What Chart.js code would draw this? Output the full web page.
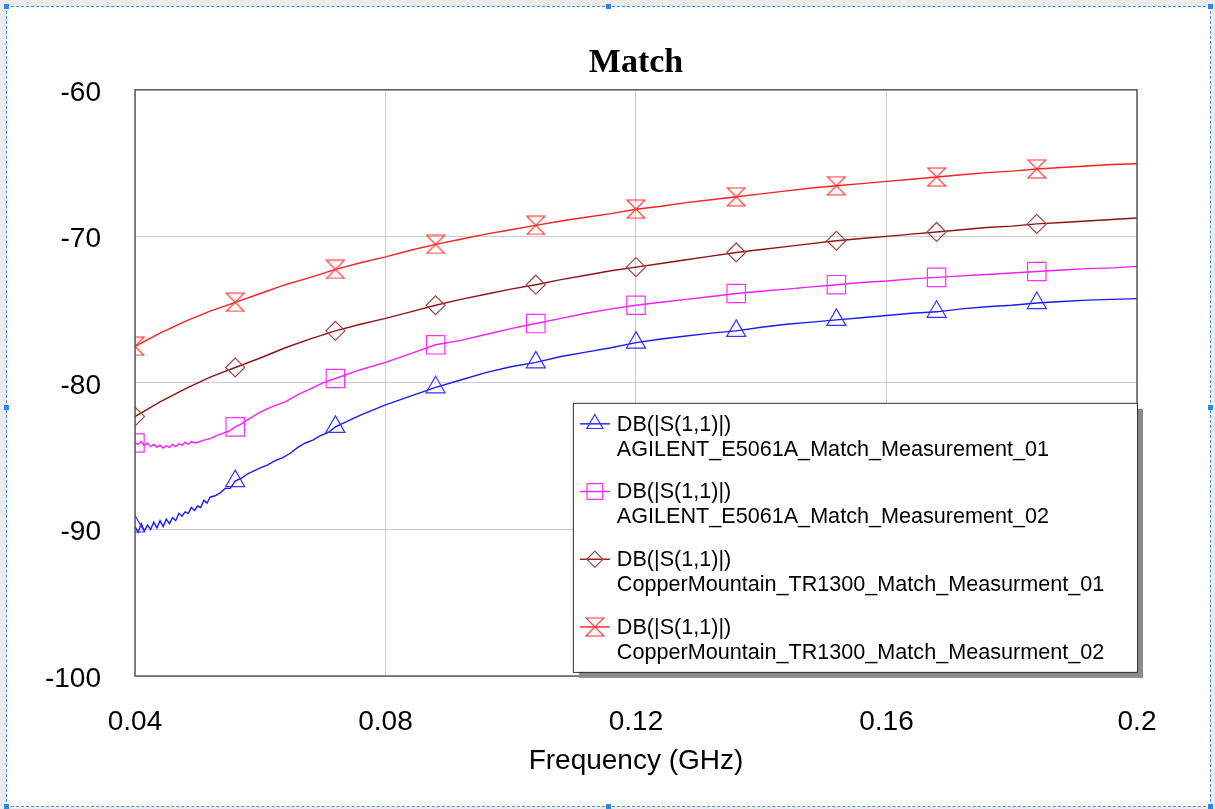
<!DOCTYPE html>
<html>
<head>
<meta charset="utf-8">
<title>Match</title>
<script src="https://cdn.jsdelivr.net/npm/chart.js@4.4.1/dist/chart.umd.min.js"></script>
<style>
    html, body { margin: 0; padding: 0; background: #ececec; overflow: hidden; }
    #frame {
        position: absolute; left: 6px; top: 6px; width: 1203px; height: 799px;
        background: #fff; border: 1px dashed #3d8fe0;
    }
    .handle { position: absolute; width: 5px; height: 5px; background: #2f86e6; }
    #chart { position: absolute; left: 0; top: 0; }
</style>
</head>
<body>
<div id="frame"></div>
<div class="handle" style="left:4px;top:4px"></div>
<div class="handle" style="left:606px;top:4px"></div>
<div class="handle" style="left:1208px;top:4px"></div>
<div class="handle" style="left:4px;top:405px"></div>
<div class="handle" style="left:1208px;top:405px"></div>
<div class="handle" style="left:4px;top:804px"></div>
<div class="handle" style="left:606px;top:804px"></div>
<div class="handle" style="left:1208px;top:804px"></div>
<canvas id="chart" width="1215" height="809"></canvas>
<script>
// axis ticks
const xTickValues = [0.04, 0.08, 0.12, 0.16, 0.2];
const xTickLabels = ['0.04', '0.08', '0.12', '0.16', '0.2'];
const yTickValues = [-100, -90, -80, -70, -60];
const yTickLabels = ['-100', '-90', '-80', '-70', '-60'];

// frequencies where the marker symbols sit
const markerFreqs = [0.04, 0.056, 0.072, 0.088, 0.104, 0.12, 0.136, 0.152, 0.168, 0.184];

const traceName = 'DB(|S(1,1)|)';
const seriesNames = [
    'AGILENT_E5061A_Match_Measurement_01',
    'AGILENT_E5061A_Match_Measurement_02',
    'CopperMountain_TR1300_Match_Measurment_01',
    'CopperMountain_TR1300_Match_Measurment_02'
];

// AGILENT 01 (blue, noisy at low frequency)
const agilent01Freq = [
    0.0400, 0.0405, 0.0410, 0.0415, 0.0420, 0.0425, 0.0430, 0.0435, 0.0440, 0.0445,
    0.0450, 0.0455, 0.0460, 0.0465, 0.0470, 0.0475, 0.0480, 0.0485, 0.0490, 0.0495,
    0.0500, 0.0505, 0.0510, 0.0515, 0.0520, 0.0528, 0.0536, 0.0544, 0.0552, 0.0560,
    0.0570, 0.0580, 0.0590, 0.0600, 0.0612, 0.0624, 0.0636, 0.0648, 0.0660, 0.0672,
    0.0684, 0.0696, 0.0708, 0.0720, 0.0760, 0.0800, 0.0840, 0.0880, 0.0920, 0.0960,
    0.1000, 0.1040, 0.1080, 0.1120, 0.1160, 0.1200, 0.1240, 0.1280, 0.1320, 0.1360,
    0.1400, 0.1440, 0.1480, 0.1520, 0.1560, 0.1600, 0.1640, 0.1680, 0.1720, 0.1760,
    0.1800, 0.1840, 0.1880, 0.1920, 0.1960, 0.2000
];
const agilent01Db = [
    -89.8, -90.2, -89.6, -90.1, -89.7, -90.0, -89.5, -89.9, -89.4, -89.8,
    -89.3, -89.6, -89.2, -89.4, -88.9, -89.1, -88.8, -88.9, -88.5, -88.7,
    -88.4, -88.5, -88.0, -88.2, -87.8, -87.7, -87.5, -87.2, -87.2, -86.7,
    -86.5, -86.2, -86.0, -85.8, -85.6, -85.3, -85.1, -84.8, -84.4, -84.1,
    -83.9, -83.6, -83.4, -83.0, -82.2, -81.5, -80.9, -80.3, -79.8, -79.3,
    -78.9, -78.6, -78.2, -77.9, -77.6, -77.25, -77.0, -76.8, -76.6, -76.45,
    -76.2, -76.0, -75.85, -75.7, -75.55, -75.4, -75.25, -75.15, -74.95, -74.8,
    -74.7, -74.55, -74.45, -74.35, -74.3, -74.25
];

// AGILENT 02 (magenta)
const agilent02Freq = [
    0.0400, 0.0405, 0.0410, 0.0415, 0.0420, 0.0425, 0.0430, 0.0435, 0.0440, 0.0445,
    0.0450, 0.0455, 0.0460, 0.0465, 0.0470, 0.0475, 0.0480, 0.0485, 0.0490, 0.0495,
    0.0500, 0.0510, 0.0520, 0.0530, 0.0540, 0.0550, 0.0560, 0.0570, 0.0580, 0.0600,
    0.0620, 0.0640, 0.0660, 0.0680, 0.0700, 0.0720, 0.0760, 0.0800, 0.0840, 0.0880,
    0.0920, 0.0960, 0.1000, 0.1040, 0.1080, 0.1120, 0.1160, 0.1200, 0.1240, 0.1280,
    0.1320, 0.1360, 0.1400, 0.1440, 0.1480, 0.1520, 0.1560, 0.1600, 0.1640, 0.1680,
    0.1720, 0.1760, 0.1800, 0.1840, 0.1880, 0.1920, 0.1960, 0.2000
];
const agilent02Db = [
    -84.1, -84.2, -84.0, -84.3, -84.1, -84.35, -84.2, -84.4, -84.25, -84.45,
    -84.3, -84.4, -84.2, -84.35, -84.15, -84.25, -84.05, -84.2, -84.0, -84.1,
    -84.05, -83.9, -83.8, -83.6, -83.45, -83.3, -83.0, -82.8, -82.5, -82.0,
    -81.6, -81.3, -80.8, -80.4, -80.0, -79.7, -79.1, -78.6, -78.0, -77.4,
    -77.1, -76.7, -76.3, -75.95, -75.6, -75.25, -74.95, -74.7, -74.5, -74.3,
    -74.1, -73.9, -73.75, -73.6, -73.45, -73.3, -73.15, -73.05, -72.9, -72.8,
    -72.7, -72.6, -72.5, -72.4, -72.3, -72.2, -72.15, -72.05
];

// CopperMountain traces are smooth, one value every 4 MHz
const copperFreq = [
    0.040, 0.044, 0.048, 0.052, 0.056, 0.060, 0.064, 0.068, 0.072, 0.076,
    0.080, 0.084, 0.088, 0.092, 0.096, 0.100, 0.104, 0.108, 0.112, 0.116,
    0.120, 0.124, 0.128, 0.132, 0.136, 0.140, 0.144, 0.148, 0.152, 0.156,
    0.160, 0.164, 0.168, 0.172, 0.176, 0.180, 0.184, 0.188, 0.192, 0.196, 0.200
];
const copper01Db = [
    -82.3, -81.3, -80.4, -79.6, -78.95, -78.3, -77.6, -77.0, -76.45, -76.0,
    -75.6, -75.15, -74.7, -74.3, -73.95, -73.6, -73.3, -72.95, -72.65, -72.35,
    -72.1, -71.85, -71.6, -71.35, -71.1, -70.9, -70.7, -70.5, -70.3, -70.15,
    -70.0, -69.85, -69.7, -69.55, -69.4, -69.3, -69.15, -69.05, -68.95, -68.85, -68.75
];
const copper02Db = [
    -77.5, -76.6, -75.8, -75.1, -74.5, -73.9, -73.3, -72.8, -72.25, -71.8,
    -71.4, -70.95, -70.55, -70.2, -69.85, -69.55, -69.25, -68.95, -68.7, -68.45,
    -68.15, -67.95, -67.7, -67.5, -67.3, -67.1, -66.9, -66.7, -66.55, -66.4,
    -66.25, -66.1, -65.95, -65.8, -65.65, -65.55, -65.4, -65.3, -65.2, -65.1, -65.05
];

const colors = ['#1a1aff', '#ff1aff', '#8e1414', '#ff2020'];
const markerColors = ['#3535ff', '#ff30ff', '#a04848', '#ff3030'];

function pairs(xs, ys) {
    return xs.map((x, i) => ({ x: x, y: ys[i] }));
}

// hourglass symbol used for the last trace
function hourglass(color, size) {
    const c = document.createElement('canvas');
    c.width = size;
    c.height = size;
    const g = c.getContext('2d');
    g.strokeStyle = color;
    g.lineWidth = 1.2;
    g.beginPath();
    g.moveTo(1, 1);
    g.lineTo(size - 1, 1);
    g.lineTo(1, size - 1);
    g.lineTo(size - 1, size - 1);
    g.closePath();
    g.stroke();
    return c;
}

const pointStyles = ['triangle', 'rect', 'rectRot', hourglass(markerColors[3], 20)];
const pointSizes = [11, 13, 9.5, 10];

function isMarker(x) {
    return markerFreqs.some(f => Math.abs(f - x) < 1e-6);
}

function makeDataset(i, xs, ys) {
    return {
        label: seriesNames[i],
        data: pairs(xs, ys),
        borderColor: colors[i],
        borderWidth: 1.4,
        pointStyle: pointStyles[i],
        pointBorderColor: markerColors[i],
        pointBackgroundColor: 'rgba(0,0,0,0)',
        pointBorderWidth: 1.2,
        pointRadius: ctx => (ctx.raw && isMarker(ctx.raw.x)) ? pointSizes[i] : 0,
        tension: 0,
        fill: false
    };
}

// boxed legend drawn inside the plot, lower right
const boxLegend = {
    id: 'boxLegend',
    afterDraw(chart) {
        const ctx = chart.ctx;
        const ca = chart.chartArea;
        const w = ca.right - ca.left;
        const h = ca.bottom - ca.top;
        const left = ca.left + w * 0.437;
        const top = ca.top + h * 0.534;
        const right = ca.right;
        const bottom = ca.top + h * 0.993;

        ctx.save();
        ctx.fillStyle = '#8a8a8a';
        ctx.fillRect(left + 6, top + 6, right - left, bottom - top);
        ctx.fillStyle = '#ffffff';
        ctx.fillRect(left, top, right - left, bottom - top);
        ctx.strokeStyle = '#333';
        ctx.lineWidth = 1;
        ctx.strokeRect(left + 0.5, top + 0.5, right - left, bottom - top);

        ctx.font = '21.6px "Liberation Sans", Arial, sans-serif';
        ctx.textBaseline = 'middle';
        ctx.textAlign = 'left';
        for (let i = 0; i < seriesNames.length; i++) {
            const y = top + 21 + i * 67.7;
            ctx.strokeStyle = colors[i];
            ctx.lineWidth = 1.4;
            ctx.beginPath();
            ctx.moveTo(left + 7, y);
            ctx.lineTo(left + 37, y);
            ctx.stroke();
            ctx.strokeStyle = markerColors[i];
            ctx.fillStyle = 'rgba(0,0,0,0)';
            ctx.lineWidth = 1.2;
            Chart.helpers.drawPoint(ctx, {
                pointStyle: pointStyles[i],
                radius: pointSizes[i] * 0.85,
                rotation: 0,
                borderWidth: 1.2
            }, left + 22, y);
            ctx.fillStyle = '#000';
            ctx.fillText(traceName, left + 44, y + 1);
            ctx.fillText(seriesNames[i], left + 44, y + 26);
        }
        ctx.restore();
    }
};

// dark frame round the plot area
const plotFrame = {
    id: 'plotFrame',
    afterDatasetsDraw(chart) {
        const ctx = chart.ctx;
        const ca = chart.chartArea;
        ctx.save();
        ctx.strokeStyle = '#5a5a5a';
        ctx.lineWidth = 1.5;
        ctx.strokeRect(ca.left, ca.top, ca.right - ca.left, ca.bottom - ca.top);
        ctx.restore();
    }
};

const tickFont = { family: '"Liberation Sans", Arial, sans-serif', size: 28 };

new Chart(document.getElementById('chart').getContext('2d'), {
    type: 'line',
    data: {
        datasets: [
            makeDataset(0, agilent01Freq, agilent01Db),
            makeDataset(1, agilent02Freq, agilent02Db),
            makeDataset(2, copperFreq, copper01Db),
            makeDataset(3, copperFreq, copper02Db)
        ]
    },
    options: {
        responsive: false,
        animation: false,
        events: [],
        layout: { padding: { left: 0, right: 78, top: 0, bottom: 0 } },
        plugins: {
            legend: { display: false },
            tooltip: { enabled: false },
            title: {
                display: true,
                text: 'Match',
                fullSize: false,
                color: '#000',
                font: { family: '"Liberation Serif", "Times New Roman", serif', size: 34, weight: 'bold', lineHeight: 1.2 },
                padding: { top: 43, bottom: 6 }
            }
        },
        scales: {
            x: {
                type: 'linear',
                min: 0.04,
                max: 0.2,
                afterBuildTicks: scale => { scale.ticks = xTickValues.map(v => ({ value: v })); },
                afterFit: scale => { scale.height = 133; },
                ticks: {
                    color: '#000',
                    font: tickFont,
                    padding: 29,
                    maxRotation: 0,
                    autoSkip: false,
                    callback: (v, idx) => xTickLabels[idx]
                },
                grid: { color: '#cccccc', lineWidth: 1, drawTicks: false },
                border: { display: false },
                title: {
                    display: true,
                    text: 'Frequency (GHz)',
                    color: '#000',
                    font: tickFont,
                    padding: { top: 0, bottom: 31 }
                }
            },
            y: {
                type: 'linear',
                min: -100,
                max: -60,
                afterBuildTicks: scale => { scale.ticks = yTickValues.map(v => ({ value: v })); },
                afterFit: scale => { scale.width = 135; },
                ticks: {
                    color: '#000',
                    font: tickFont,
                    padding: 34,
                    labelOffset: 3,
                    autoSkip: false,
                    callback: (v, idx) => yTickLabels[idx]
                },
                grid: { color: '#cccccc', lineWidth: 1, drawTicks: false },
                border: { display: false }
            }
        }
    },
    plugins: [plotFrame, boxLegend]
});
</script>
</body>
</html>
